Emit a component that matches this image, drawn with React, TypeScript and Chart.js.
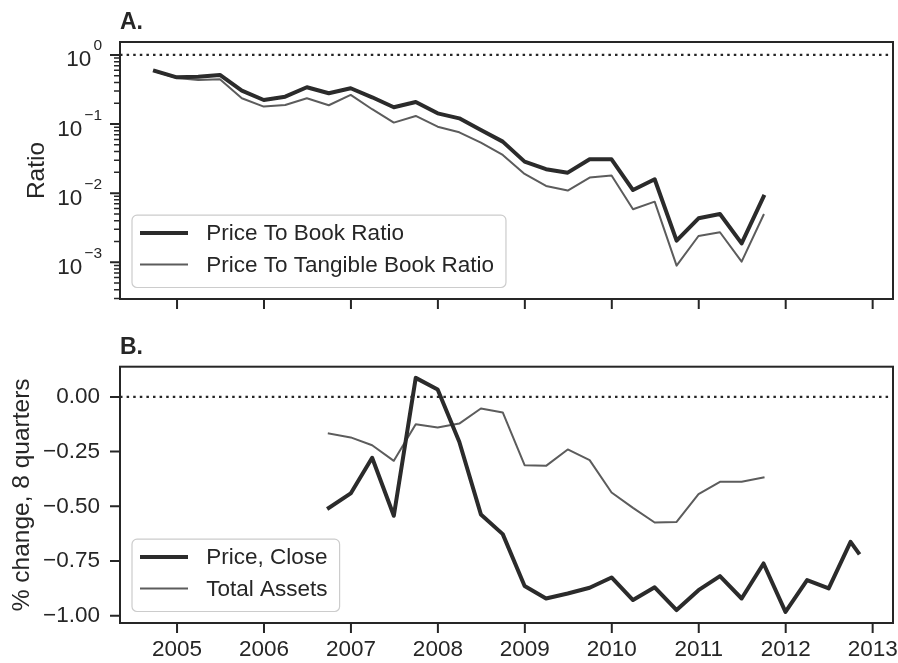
import React, { useEffect, useRef } from 'react';
import { Chart, registerables } from 'chart.js';

Chart.register(...registerables);

// ---------- data ----------
const ratioDates = [
  '2004-09-30', '2004-12-31',
  '2005-03-31', '2005-06-30', '2005-09-30', '2005-12-31',
  '2006-03-31', '2006-06-30', '2006-09-30', '2006-12-31',
  '2007-03-31', '2007-06-30', '2007-09-30', '2007-12-31',
  '2008-03-31', '2008-06-30', '2008-09-30', '2008-12-31',
  '2009-03-31', '2009-06-30', '2009-09-30', '2009-12-31',
  '2010-03-31', '2010-06-30', '2010-09-30', '2010-12-31',
  '2011-03-31', '2011-06-30', '2011-09-30',
];
const priceToBook = [
  0.587, 0.475, 0.485, 0.514, 0.305, 0.223, 0.249, 0.341, 0.279, 0.33,
  0.244, 0.175, 0.209, 0.143, 0.121, 0.0822, 0.0557, 0.0286, 0.0222, 0.0198,
  0.0309, 0.0309, 0.0111, 0.0159, 0.00206, 0.00433, 0.005, 0.00188, 0.00891,
];
const priceToTangibleBook = [
  0.58, 0.464, 0.435, 0.445, 0.236, 0.179, 0.189, 0.236, 0.187, 0.264,
  0.164, 0.105, 0.131, 0.0917, 0.076, 0.0538, 0.0357, 0.019, 0.0127, 0.0109,
  0.0168, 0.018, 0.00585, 0.00753, 0.000893, 0.0024, 0.00272, 0.00102, 0.00484,
];

const priceDates = [
  '2006-09-30', '2006-12-31',
  '2007-03-31', '2007-06-30', '2007-09-30', '2007-12-31',
  '2008-03-31', '2008-06-30', '2008-09-30', '2008-12-31',
  '2009-03-31', '2009-06-30', '2009-09-30', '2009-12-31',
  '2010-03-31', '2010-06-30', '2010-09-30', '2010-12-31',
  '2011-03-31', '2011-06-30', '2011-09-30', '2011-12-31',
  '2012-03-31', '2012-06-30', '2012-09-30', '2012-11-02',
];
const priceClose = [
  -0.507, -0.441, -0.278, -0.543, 0.087, 0.034, -0.205, -0.537, -0.627, -0.864,
  -0.921, -0.898, -0.872, -0.825, -0.928, -0.87, -0.974, -0.883, -0.819, -0.921,
  -0.761, -0.982, -0.837, -0.875, -0.662, -0.712,
];
const assetDates = [
  '2006-09-30', '2006-12-31',
  '2007-03-31', '2007-06-30', '2007-09-30', '2007-12-31',
  '2008-03-31', '2008-06-30', '2008-09-30', '2008-12-31',
  '2009-03-31', '2009-06-30', '2009-09-30', '2009-12-31',
  '2010-03-31', '2010-06-30', '2010-09-30', '2010-12-31',
  '2011-03-31', '2011-06-30', '2011-09-30',
];
const totalAssets = [
  -0.167, -0.185, -0.221, -0.292, -0.125, -0.14, -0.122, -0.053, -0.071, -0.312,
  -0.315, -0.24, -0.289, -0.437, -0.507, -0.574, -0.571, -0.444, -0.388, -0.388,
  -0.368,
];

const yearTicks = [2005, 2006, 2007, 2008, 2009, 2010, 2011, 2012, 2013];
const ratioTicks = [1e-3, 1e-2, 1e-1, 1];
const ratioExponents = ['\u22123', '\u22122', '\u22121', '0'];
const changeTicks = [-1, -0.75, -0.5, -0.25, 0];

// ---------- style ----------
const FONT = '"Liberation Sans", Arial, Helvetica, sans-serif';
const INK = '#262626';
const DARK = '#2b2b2b';
const GRAY = '#5c5c5c';
const X_MIN = 2004.344;
const X_MAX = 2013.234;
const TICK_SIZE = 22.5;
const LABEL_SIZE = 24.5;

function decYear(s: string): number {
  const [y, m, d] = s.split('-').map(Number);
  const t = Date.UTC(y, m - 1, d);
  const t0 = Date.UTC(y, 0, 1);
  const t1 = Date.UTC(y + 1, 0, 1);
  return y + (t - t0) / (t1 - t0);
}

function pts(dates: string[], vals: number[]) {
  return dates.map((d, i) => ({ x: decYear(d), y: vals[i] }));
}

function fmtChange(v: number): string {
  const s = Math.abs(v).toFixed(2);
  return v < 0 ? '\u2212' + s : s;
}

type LegendItem = { label: string; color: string; width: number };

function makeDecor(cfg: {
  title: string;
  ref: number;
  legend: LegendItem[];
  logLabels: boolean;
}) {
  return {
    id: 'decor',
    beforeDatasetsDraw(chart: any) {
      const { ctx, chartArea: a, scales } = chart;
      const y = scales.y.getPixelForValue(cfg.ref);
      ctx.save();
      ctx.strokeStyle = INK;
      ctx.lineWidth = 2.3;
      ctx.setLineDash([2.5, 4.1]);
      ctx.beginPath();
      ctx.moveTo(a.left, y);
      ctx.lineTo(a.right, y);
      ctx.stroke();
      ctx.restore();
    },
    afterDraw(chart: any) {
      const { ctx, chartArea: a, scales } = chart;
      ctx.save();
      // frame
      ctx.strokeStyle = INK;
      ctx.lineWidth = 2;
      ctx.strokeRect(a.left, a.top, a.right - a.left, a.bottom - a.top);
      // x ticks
      ctx.lineWidth = 2;
      ctx.beginPath();
      for (const v of yearTicks) {
        const x = scales.x.getPixelForValue(v);
        ctx.moveTo(x, a.bottom);
        ctx.lineTo(x, a.bottom + 10);
      }
      ctx.stroke();
      // y ticks
      if (cfg.logLabels) {
        ctx.beginPath();
        for (const v of ratioTicks) {
          const y = scales.y.getPixelForValue(v);
          ctx.moveTo(a.left - 10, y);
          ctx.lineTo(a.left, y);
        }
        ctx.stroke();
        ctx.lineWidth = 1.5;
        ctx.beginPath();
        const ymin = scales.y.min;
        const ymax = scales.y.max;
        for (let e = -5; e <= 1; e++) {
          for (let k = 2; k <= 9; k++) {
            const v = k * Math.pow(10, e);
            if (v < ymin || v > ymax) continue;
            const y = scales.y.getPixelForValue(v);
            ctx.moveTo(a.left - 6, y);
            ctx.lineTo(a.left, y);
          }
        }
        ctx.stroke();
        // labels 10^k
        ctx.fillStyle = INK;
        ratioTicks.forEach((v, i) => {
          const y = scales.y.getPixelForValue(v);
          const right = a.left - 18;
          ctx.font = `15.5px ${FONT}`;
          ctx.textAlign = 'right';
          ctx.textBaseline = 'alphabetic';
          const sup = ratioExponents[i];
          const sw = ctx.measureText(sup).width;
          ctx.fillText(sup, right, y - 4.5);
          ctx.font = `${TICK_SIZE}px ${FONT}`;
          ctx.fillText('10', right - sw - 2, y + 11.5);
        });
      } else {
        ctx.beginPath();
        for (const v of changeTicks) {
          const y = scales.y.getPixelForValue(v);
          ctx.moveTo(a.left - 10, y);
          ctx.lineTo(a.left, y);
        }
        ctx.stroke();
      }
      // legend
      ctx.font = `${TICK_SIZE}px ${FONT}`;
      const lx = a.left + 12;
      const h = 72.3;
      const top = a.bottom - 11.5 - h;
      const textX = lx + 74.3;
      const tw = Math.max(...cfg.legend.map((it) => ctx.measureText(it.label).width));
      const w = textX + tw + 12 - lx;
      ctx.beginPath();
      if ((ctx as any).roundRect) {
        (ctx as any).roundRect(lx, top, w, h, 5);
      } else {
        ctx.rect(lx, top, w, h);
      }
      ctx.fillStyle = 'rgba(255,255,255,0.8)';
      ctx.fill();
      ctx.strokeStyle = '#cccccc';
      ctx.lineWidth = 1.2;
      ctx.stroke();
      cfg.legend.forEach((it, i) => {
        const ry = top + 17.7 + i * 31.6;
        ctx.strokeStyle = it.color;
        ctx.lineWidth = it.width;
        ctx.lineCap = 'butt';
        ctx.beginPath();
        ctx.moveTo(lx + 8, ry);
        ctx.lineTo(lx + 56, ry);
        ctx.stroke();
        ctx.fillStyle = INK;
        ctx.textAlign = 'left';
        ctx.textBaseline = 'middle';
        ctx.fillText(it.label, textX, ry + 1);
      });
      // panel title
      ctx.font = `bold 23px ${FONT}`;
      ctx.fillStyle = INK;
      ctx.textAlign = 'left';
      ctx.textBaseline = 'alphabetic';
      ctx.fillText(cfg.title, a.left, a.top - 12.8);
      ctx.restore();
    },
  };
}

function lineDs(label: string, data: any[], color: string, width: number) {
  return {
    label,
    data,
    borderColor: color,
    backgroundColor: color,
    borderWidth: width,
    pointRadius: 0,
    pointHoverRadius: 0,
    tension: 0,
    fill: false,
    borderJoinStyle: 'round' as const,
    borderCapStyle: 'square' as const,
  };
}

function xScale(height: number, showLabels: boolean) {
  return {
    type: 'linear' as const,
    min: X_MIN,
    max: X_MAX,
    afterBuildTicks: (s: any) => {
      s.ticks = yearTicks.map((v) => ({ value: v }));
    },
    ticks: {
      display: showLabels,
      color: INK,
      padding: 13,
      maxRotation: 0,
      autoSkip: false,
      font: { family: FONT, size: TICK_SIZE },
      callback: (v: any) => String(v),
    },
    grid: { display: false, drawTicks: false },
    border: { display: false },
    afterFit: (s: any) => {
      s.height = height;
      s.paddingLeft = 0;
      s.paddingRight = 0;
    },
  };
}

function TopChart() {
  const ref = useRef<HTMLCanvasElement>(null);
  useEffect(() => {
    const chart = new Chart(ref.current as HTMLCanvasElement, {
      type: 'line',
      data: {
        datasets: [
          lineDs('Price To Book Ratio', pts(ratioDates, priceToBook), DARK, 4),
          lineDs('Price To Tangible Book Ratio', pts(ratioDates, priceToTangibleBook), GRAY, 2),
        ],
      },
      options: {
        animation: false,
        responsive: false,
        devicePixelRatio: 1,
        events: [],
        layout: { padding: { left: 0, right: 5, top: 42, bottom: 0 } },
        plugins: { legend: { display: false }, tooltip: { enabled: false }, title: { display: false } },
        scales: {
          x: xScale(31, false),
          y: {
            type: 'logarithmic',
            min: 2.94e-4,
            max: 1.54,
            afterBuildTicks: (s: any) => {
              s.ticks = ratioTicks.map((v) => ({ value: v }));
            },
            ticks: { display: false },
            grid: { display: false, drawTicks: false },
            border: { display: false },
            title: {
              display: true,
              text: 'Ratio',
              color: INK,
              font: { family: FONT, size: LABEL_SIZE },
              padding: { top: 23, bottom: 0 },
            },
            afterFit: (s: any) => {
              s.width = 120;
            },
          },
        },
      } as any,
      plugins: [
        makeDecor({
          title: 'A.',
          ref: 1,
          logLabels: true,
          legend: [
            { label: 'Price To Book Ratio', color: DARK, width: 4 },
            { label: 'Price To Tangible Book Ratio', color: GRAY, width: 2 },
          ],
        }),
      ],
    });
    return () => chart.destroy();
  }, []);
  return <canvas ref={ref} width={898} height={330} style={{ display: 'block', width: 898, height: 330 }} />;
}

function BottomChart() {
  const ref = useRef<HTMLCanvasElement>(null);
  useEffect(() => {
    const chart = new Chart(ref.current as HTMLCanvasElement, {
      type: 'line',
      data: {
        datasets: [
          lineDs('Price, Close', pts(priceDates, priceClose), DARK, 4),
          lineDs('Total Assets', pts(assetDates, totalAssets), GRAY, 2),
        ],
      },
      options: {
        animation: false,
        responsive: false,
        devicePixelRatio: 1,
        events: [],
        layout: { padding: { left: 0, right: 5, top: 36.7, bottom: 0 } },
        plugins: { legend: { display: false }, tooltip: { enabled: false }, title: { display: false } },
        scales: {
          x: xScale(40, true),
          y: {
            type: 'linear',
            min: -1.033,
            max: 0.138,
            afterBuildTicks: (s: any) => {
              s.ticks = changeTicks.map((v) => ({ value: v }));
            },
            ticks: {
              display: true,
              color: INK,
              padding: 20,
              font: { family: FONT, size: TICK_SIZE },
              callback: (v: any) => fmtChange(Number(v)),
            },
            grid: { display: false, drawTicks: false },
            border: { display: false },
            title: {
              display: true,
              text: '% change, 8 quarters',
              color: INK,
              font: { family: FONT, size: LABEL_SIZE },
              padding: { top: 8, bottom: 0 },
            },
            afterFit: (s: any) => {
              s.width = 120;
            },
          },
        },
      } as any,
      plugins: [
        makeDecor({
          title: 'B.',
          ref: 0,
          logLabels: false,
          legend: [
            { label: 'Price, Close', color: DARK, width: 4 },
            { label: 'Total Assets', color: GRAY, width: 2 },
          ],
        }),
      ],
    });
    return () => chart.destroy();
  }, []);
  return <canvas ref={ref} width={898} height={333} style={{ display: 'block', width: 898, height: 333 }} />;
}

export default function App() {
  return (
    <div
      style={{
        position: 'fixed',
        left: 0,
        top: 0,
        width: 898,
        height: 663,
        background: '#ffffff',
        overflow: 'hidden',
      }}
    >
      <TopChart />
      <BottomChart />
    </div>
  );
}
